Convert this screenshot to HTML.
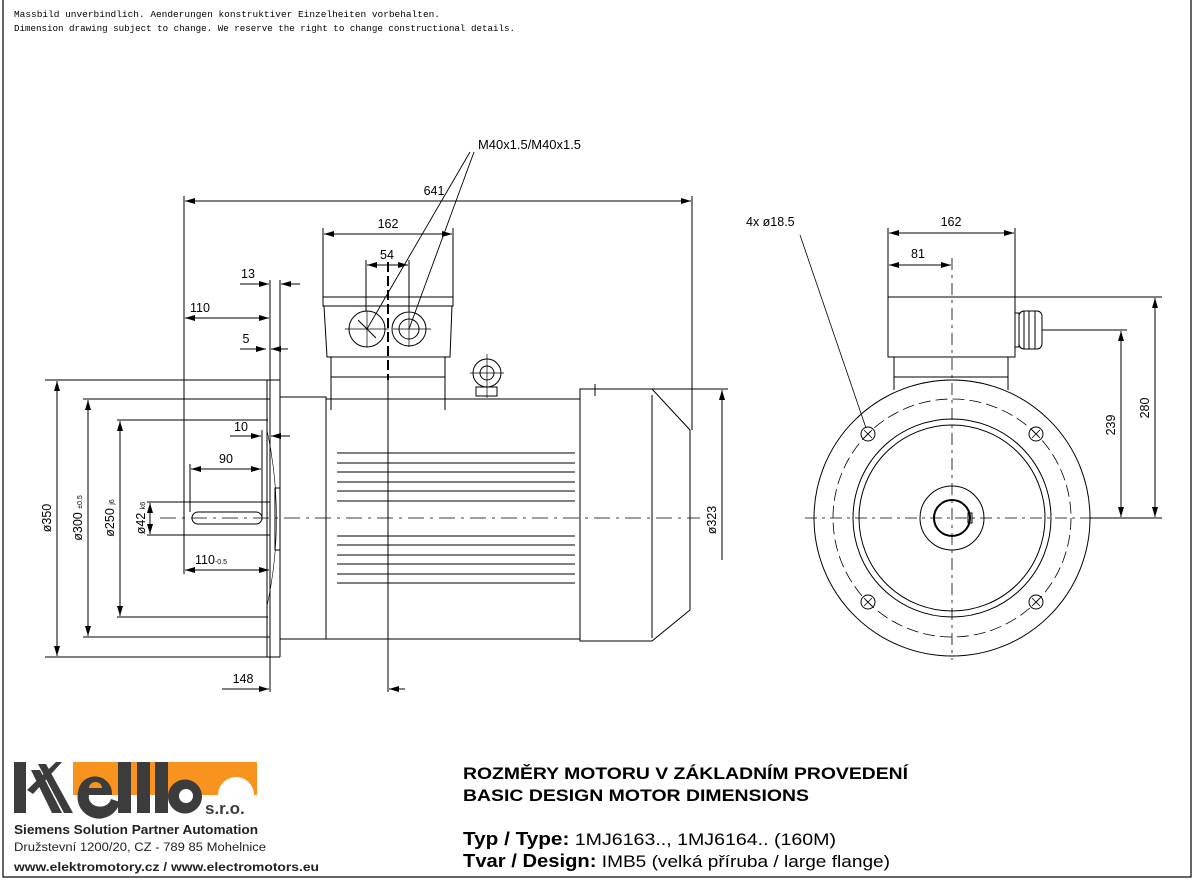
<!DOCTYPE html>
<html><head><meta charset="utf-8"><style>
html,body{margin:0;padding:0;background:#fff}
svg{display:block}
.d{font-family:"Liberation Sans",sans-serif;font-size:12.5px;fill:#000}
.m{font-family:"Liberation Mono",monospace;font-size:9.2px;fill:#000}
</style></head><body>
<svg width="1195" height="882" viewBox="0 0 1195 882" xmlns="http://www.w3.org/2000/svg">
<defs>
<marker id="a" viewBox="0 0 10 6" refX="10" refY="3" markerWidth="14" markerHeight="6" markerUnits="userSpaceOnUse" orient="auto-start-reverse"><path d="M0,0L10,3L0,6z" fill="#000"/></marker>
</defs>
<rect x="3" y="-2" width="1188" height="879" fill="none" stroke="#000" stroke-width="1.2"/>
<text class="m" x="14" y="17" textLength="426" lengthAdjust="spacingAndGlyphs">Massbild unverbindlich. Aenderungen konstruktiver Einzelheiten vorbehalten.</text>
<text class="m" x="14" y="31" textLength="501" lengthAdjust="spacingAndGlyphs">Dimension drawing subject to change. We reserve the right to change constructional details.</text>

<g stroke="#000" stroke-width="1" fill="none">
<line x1="267" y1="380" x2="267" y2="657"/>
<line x1="270" y1="380" x2="270" y2="657"/>
<line x1="280" y1="380" x2="280" y2="657"/>
<rect x="280" y="397" width="46" height="242"/>
<rect x="275" y="488" width="5" height="62"/>
<path d="M267,430 Q286,518 267,606" stroke-width="0.6"/>
<line x1="326" y1="399" x2="580" y2="399"/>
<line x1="326" y1="639" x2="580" y2="639"/>
<g stroke-width="1">
<line x1="337" y1="453" x2="575" y2="453"/><line x1="337" y1="463" x2="575" y2="463"/><line x1="337" y1="472" x2="575" y2="472"/><line x1="337" y1="482" x2="575" y2="482"/><line x1="337" y1="491" x2="575" y2="491"/><line x1="337" y1="501" x2="575" y2="501"/>
<line x1="337" y1="536" x2="575" y2="536"/><line x1="337" y1="545" x2="575" y2="545"/><line x1="337" y1="555" x2="575" y2="555"/><line x1="337" y1="564" x2="575" y2="564"/><line x1="337" y1="574" x2="575" y2="574"/><line x1="337" y1="583" x2="575" y2="583"/>
</g>
<path d="M580,389 L652,389 L690,430 L690,610 L652,641 L580,641 Z"/>
<line x1="652" y1="395" x2="652" y2="638"/>
<path d="M595,384 v12 M592,389 h8"/>
<rect x="323" y="297" width="130" height="9"/>
<path d="M324,306 L327,357 L450,357 L452,306"/>
<path d="M331,357 V410 M445,357 V410 M331,377 H445"/>
<circle cx="367" cy="329" r="18"/>
<circle cx="409" cy="329" r="17"/><circle cx="409" cy="329" r="10"/>
<path d="M358,320 L376,338" />
<path d="M345,329 H389 M367,311 V347 M393,329 H431 M409,311 V347" stroke-width="0.7"/>
<circle cx="487" cy="373" r="14"/><circle cx="487" cy="373" r="7"/>
<rect x="476" y="387" width="21" height="9"/>
<path d="M470,373 H504 M487,354 V398" stroke-width="0.7"/>
<line x1="160" y1="518" x2="700" y2="518" stroke-dasharray="16,6,3,6" stroke-width="0.8"/>
<line x1="388" y1="262" x2="388" y2="380" stroke-dasharray="10,4" stroke-width="2"/>
<line x1="388" y1="380" x2="388" y2="692"/>
<line x1="147" y1="502" x2="270" y2="502"/><line x1="147" y1="535" x2="270" y2="535"/>
<rect x="192" y="512" width="70" height="12" rx="6"/>
<line x1="45" y1="380" x2="280" y2="380"/>
<line x1="45" y1="657" x2="280" y2="657"/>
<line x1="83" y1="399" x2="270" y2="399"/>
<line x1="83" y1="637" x2="270" y2="637"/>
<line x1="117" y1="420" x2="268" y2="420"/>
<line x1="117" y1="617" x2="268" y2="617"/>
<line x1="184" y1="196" x2="184" y2="574"/>
<line x1="692" y1="196" x2="692" y2="430"/>
<line x1="323" y1="228" x2="323" y2="297"/>
<line x1="453" y1="228" x2="453" y2="297"/>
<line x1="366" y1="260" x2="366" y2="311"/>
<line x1="409" y1="260" x2="409" y2="311"/>
<line x1="270" y1="280" x2="270" y2="380"/>
<line x1="280" y1="280" x2="280" y2="380"/>
<line x1="262" y1="430" x2="262" y2="520"/>
<line x1="190" y1="464" x2="190" y2="512"/>
<line x1="270" y1="657" x2="270" y2="692"/>
<line x1="600" y1="389" x2="728" y2="389"/>
<g marker-end="url(#a)" marker-start="url(#a)">
<line x1="185" y1="201" x2="691" y2="201"/>
<line x1="324" y1="234" x2="452" y2="234"/>
<line x1="367" y1="265" x2="408" y2="265"/>
<line x1="185" y1="318" x2="269" y2="318"/>
<line x1="191" y1="469" x2="261" y2="469"/>
<line x1="185" y1="570" x2="269" y2="570"/>
<line x1="57" y1="381" x2="57" y2="656"/>
<line x1="88" y1="400" x2="88" y2="636"/>
<line x1="120" y1="421" x2="120" y2="616"/>
<line x1="150" y1="503" x2="150" y2="534"/>
</g>
<g marker-end="url(#a)">
<line x1="240" y1="284" x2="269" y2="284"/><line x1="300" y1="284" x2="281" y2="284"/>
<line x1="240" y1="349" x2="266" y2="349"/><line x1="288" y1="349" x2="271" y2="349"/>
<line x1="230" y1="436" x2="261" y2="436"/><line x1="290" y1="436" x2="271" y2="436"/>
<line x1="222" y1="689" x2="269" y2="689"/><line x1="405" y1="689" x2="389" y2="689"/>
<line x1="722" y1="560" x2="722" y2="390"/>
</g>
<path d="M470,152 L367,329 M474,152 L409,329" stroke-width="0.9"/>

<circle cx="952" cy="518" r="138"/>
<circle cx="952" cy="518" r="119" stroke-dasharray="12,5" stroke-width="0.8"/>
<circle cx="952" cy="518" r="99"/>
<circle cx="952" cy="518" r="93"/>
<circle cx="952" cy="518" r="32"/>
<circle cx="952" cy="518" r="18" stroke-width="2"/>
<rect x="968" y="513" width="4" height="10"/>
<g>
<circle cx="868" cy="434" r="7"/><circle cx="1036" cy="434" r="7"/><circle cx="868" cy="602" r="7"/><circle cx="1036" cy="602" r="7"/>
<path d="M864,430 l8,8 M864,438 l8,-8 M1032,430 l8,8 M1032,438 l8,-8 M864,598 l8,8 M864,606 l8,-8 M1032,598 l8,8 M1032,606 l8,-8" stroke-width="0.8"/>
</g>
<line x1="805" y1="518" x2="1100" y2="518" stroke-dasharray="12,5,3,5" stroke-width="0.8"/>
<line x1="952" y1="258" x2="952" y2="660" stroke-dasharray="12,5,3,5" stroke-width="0.8"/>
<rect x="888" y="297" width="127" height="60" />
<path d="M894,357 V390 M1008,357 V390 M894,377 H1008"/>
<rect x="1015" y="313" width="4" height="34"/>
<rect x="1019" y="311" width="23" height="38" rx="5"/>
<path d="M1024,311 V349 M1029,311 V349 M1035,311 V349"/>
<line x1="888" y1="228" x2="888" y2="297"/>
<line x1="1015" y1="228" x2="1015" y2="297"/>
<line x1="1015" y1="297" x2="1162" y2="297"/>
<line x1="1042" y1="330" x2="1127" y2="330"/>
<line x1="1090" y1="518" x2="1162" y2="518"/>
<g marker-end="url(#a)" marker-start="url(#a)">
<line x1="889" y1="233" x2="1014" y2="233"/>
<line x1="889" y1="265" x2="951" y2="265"/>
<line x1="1155" y1="298" x2="1155" y2="517"/>
<line x1="1121" y1="331" x2="1121" y2="517"/>
</g>
<line x1="800" y1="235" x2="866" y2="428" stroke-width="0.8"/>
</g>

<g class="d">
<text x="434" y="195" text-anchor="middle">641</text>
<text x="388" y="228" text-anchor="middle">162</text>
<text x="387" y="259" text-anchor="middle">54</text>
<text x="248" y="278" text-anchor="middle">13</text>
<text x="200" y="312" text-anchor="middle">110</text>
<text x="246" y="343" text-anchor="middle">5</text>
<text x="241" y="431" text-anchor="middle">10</text>
<text x="226" y="463" text-anchor="middle">90</text>
<text x="211" y="564" text-anchor="middle">110<tspan font-size="7">-0.5</tspan></text>
<text x="243" y="683" text-anchor="middle">148</text>
<text x="478" y="149" textLength="103" lengthAdjust="spacingAndGlyphs">M40x1.5/M40x1.5</text>
<text x="746" y="226">4x ø18.5</text>
<text x="951" y="226" text-anchor="middle">162</text>
<text x="918" y="258" text-anchor="middle">81</text>
<text transform="translate(51,518) rotate(-90)" text-anchor="middle">ø350</text>
<text transform="translate(82,518) rotate(-90)" text-anchor="middle">ø300 <tspan font-size="7">±0.5</tspan></text>
<text transform="translate(114,518) rotate(-90)" text-anchor="middle">ø250 <tspan font-size="7">j6</tspan></text>
<text transform="translate(145,518) rotate(-90)" text-anchor="middle">ø42 <tspan font-size="7">k6</tspan></text>
<text transform="translate(716,520) rotate(-90)" text-anchor="middle">ø323</text>
<text transform="translate(1115,425) rotate(-90)" text-anchor="middle">239</text>
<text transform="translate(1149,408) rotate(-90)" text-anchor="middle">280</text>
</g>

<g>
<rect x="73" y="762" width="184" height="33" fill="#f7931e"/>
<path d="M218,795 A18,18 0 0 1 254,795 Z" fill="#fff"/>
<g fill="#3c3c3c">
<rect x="14" y="762" width="12" height="51"/>
<polygon points="27,790 56,762 62,762 33,794"/>
<polygon points="31,770 40,770 62,813 52,813"/>
<polygon points="38,764 46,764 73,813 64,813"/>
<path d="M78,792 a17,17 0 1 1 34,3 h-23 a7,6 0 0 0 22,4 l9,3 a17,17 0 0 1 -42,-10z M89,788 h13 a6.5,6 0 0 0 -13,0z"/>
<rect x="118" y="762" width="13" height="51"/>
<rect x="137" y="762" width="13" height="51"/>
<rect x="155" y="762" width="13" height="51"/>
<path d="M168,796 a17,17 0 1 1 0,1z" />
</g>
<circle cx="186" cy="796" r="7" fill="#fff"/>
<text x="205" y="814" font-family="Liberation Sans,sans-serif" font-weight="bold" font-size="17" fill="#3c3c3c">s.r.o.</text>
<text x="14" y="834" font-family="Liberation Sans,sans-serif" font-weight="bold" font-size="12.5" fill="#222" textLength="244" lengthAdjust="spacingAndGlyphs">Siemens Solution Partner Automation</text>
<text x="14" y="851" font-family="Liberation Sans,sans-serif" font-size="12.3" fill="#222" textLength="252" lengthAdjust="spacingAndGlyphs">Družstevní 1200/20, CZ - 789 85 Mohelnice</text>
<text x="14" y="871" font-family="Liberation Sans,sans-serif" font-weight="bold" font-size="12.3" fill="#222" textLength="305" lengthAdjust="spacingAndGlyphs">www.elektromotory.cz / www.electromotors.eu</text>
</g>

<g font-family="Liberation Sans,sans-serif" fill="#000">
<text x="463" y="779" font-weight="bold" font-size="16.5" textLength="445" lengthAdjust="spacingAndGlyphs">ROZMĚRY MOTORU V ZÁKLADNÍM PROVEDENÍ</text>
<text x="463" y="801" font-weight="bold" font-size="16.5" textLength="346" lengthAdjust="spacingAndGlyphs">BASIC DESIGN MOTOR DIMENSIONS</text>
<text x="463" y="845" font-size="17" textLength="373" lengthAdjust="spacingAndGlyphs"><tspan font-weight="bold" font-size="18">Typ / Type:</tspan> 1MJ6163.., 1MJ6164.. (160M)</text>
<text x="463" y="867" font-size="17" textLength="427" lengthAdjust="spacingAndGlyphs"><tspan font-weight="bold" font-size="18">Tvar / Design:</tspan> IMB5 (velká příruba / large flange)</text>
</g>
</svg>
</body></html>
